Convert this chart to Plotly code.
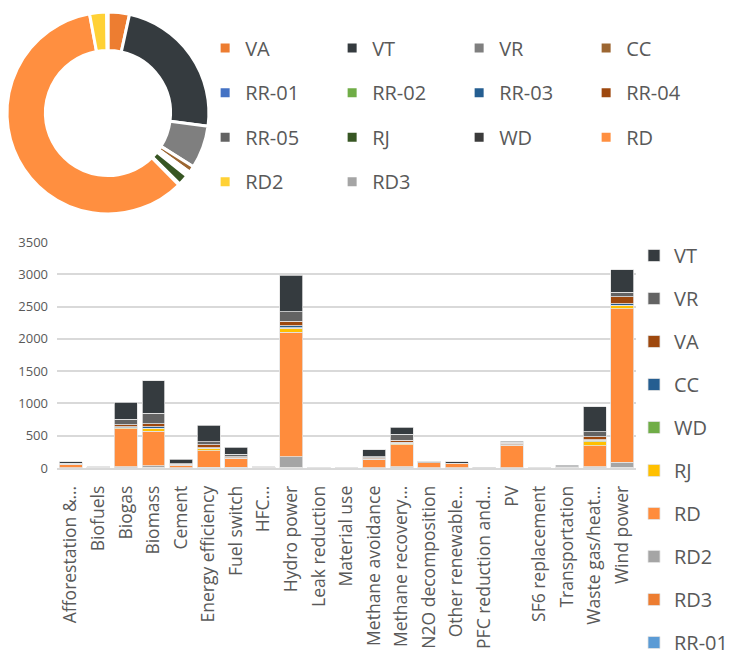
import plotly.graph_objects as go

# ---------------- Donut data ----------------
donut_labels = ["VA", "VT", "VR", "CC", "RR-01", "RR-02", "RR-03", "RR-04",
                "RR-05", "RJ", "WD", "RD", "RD2", "RD3"]
donut_values = [3.4, 23.5, 6.8, 1.0, 0.15, 0.15, 0.15, 0.15,
                0.15, 1.7, 0.2, 59.0, 2.7, 0.2]
donut_colors = ["#ED7D31", "#353B3F", "#7F7F7F", "#9C6631", "#4472C4", "#70AD47",
                "#255E91", "#9E480E", "#636363", "#375623", "#3B3B3B", "#FF8F40",
                "#FFD135", "#A5A5A5"]

# ---------------- Bar data ----------------
categories = ["Afforestation &…", "Biofuels", "Biogas", "Biomass", "Cement",
              "Energy efficiency", "Fuel switch", "HFC…", "Hydro power",
              "Leak reduction", "Material use", "Methane avoidance",
              "Methane recovery…", "N2O decomposition", "Other renewable…",
              "PFC reduction and…", "PV", "SF6 replacement", "Transportation",
              "Waste gas/heat…", "Wind power"]

VT = [22, 3, 260, 507, 70, 254, 109, 4, 563, 0, 0, 113, 113, 0, 20, 2, 20, 0, 18, 383, 352]
VR = [10, 8, 90, 160, 5, 50, 40, 3, 150, 0, 0, 15, 93, 25, 3, 3, 12, 0, 5, 82, 67]
VA = [5, 0, 30, 50, 5, 45, 15, 8, 70, 0, 0, 15, 25, 0, 0, 0, 25, 2, 5, 41, 110]
CC = [0, 0, 10, 20, 0, 8, 5, 0, 25, 0, 0, 5, 15, 0, 0, 0, 10, 0, 0, 8, 26]
WD = [0, 0, 5, 5, 0, 5, 3, 0, 10, 0, 0, 0, 3, 0, 0, 0, 3, 0, 0, 25, 8]
RJ = [0, 0, 15, 45, 8, 30, 10, 0, 60, 0, 0, 5, 20, 0, 0, 0, 5, 0, 0, 60, 45]
RD = [55, 0, 590, 530, 45, 255, 135, 6, 1930, 8, 0, 130, 346, 80, 70, 0, 340, 6, 13, 330, 2378]
RD2 = [0, 12, 10, 30, 0, 10, 5, 0, 160, 5, 0, 0, 10, 3, 0, 3, 0, 4, 0, 10, 72]
RD3 = [3, 0, 5, 5, 0, 3, 3, 0, 10, 2, 0, 3, 5, 0, 2, 0, 3, 2, 0, 5, 10]
RR01 = [0, 0, 2, 3, 0, 2, 0, 0, 5, 0, 0, 0, 2, 0, 0, 0, 0, 0, 0, 2, 5]

# stacking order, bottom to top
bar_series = [
    ("RR-01", RR01, "#5B9BD5"),
    ("RD3", RD3, "#ED7D31"),
    ("RD2", RD2, "#A5A5A5"),
    ("RD", RD, "#FF8C3C"),
    ("RJ", RJ, "#FFC000"),
    ("WD", WD, "#70AD47"),
    ("CC", CC, "#255E91"),
    ("VA", VA, "#9E480E"),
    ("VR", VR, "#636363"),
    ("VT", VT, "#353B3F"),
]

FONT = "Open Sans"
TXT = "#595959"

# legend entries of the donut: 20px text inside a taller legend row
legend_labels = ['<span style="font-size:20px;baseline-shift:5px">%s</span>' % s
                 for s in donut_labels]

fig = go.Figure()

fig.add_trace(go.Pie(
    labels=legend_labels, values=donut_values, sort=False, direction="clockwise",
    rotation=0, hole=0.62, textinfo="none",
    customdata=donut_labels, hovertemplate="%{customdata}: %{percent}<extra></extra>",
    marker=dict(colors=donut_colors, line=dict(color="white", width=3)),
    domain=dict(x=[0.0, 0.321], y=[0.5486, 0.9849]),
    legend="legend",
))

n = len(bar_series)
for i, (name, vals, color) in enumerate(bar_series):
    fig.add_trace(go.Bar(
        x=categories, y=vals, name=name, legendgroup=name, legendrank=n - i,
        marker=dict(color=color, line=dict(color="#E3E3E3", width=0.8)),
        legend="legend2",
    ))

fig.update_layout(
    width=731, height=657,
    margin=dict(l=7, r=95, t=5, b=189, autoexpand=False),
    paper_bgcolor="white", plot_bgcolor="white",
    font=dict(family=FONT, color=TXT),
    barmode="stack", bargap=0.17,
    xaxis=dict(domain=[0.0795, 1.0], type="category", tickangle=-90,
               tickfont=dict(size=17.5, color=TXT), showgrid=False,
               showline=True, linecolor="#D9D9D9", linewidth=1.5, ticks="",
               ticklabelstandoff=9),
    yaxis=dict(domain=[0.0, 0.488], range=[0, 3500], dtick=500,
               gridcolor="#D9D9D9", gridwidth=1.5, zeroline=False,
               tickfont=dict(size=13, color=TXT), ticklabelstandoff=8),
    legend=dict(orientation="h", x=0.315, xanchor="left", y=0.966, yanchor="top",
                font=dict(size=32, color=TXT, family=FONT), entrywidth=82,
                bgcolor="rgba(0,0,0,0)"),
    legend2=dict(orientation="v", x=0.9968, xanchor="left", y=0.5011, yanchor="top",
                 font=dict(size=20, color=TXT, family=FONT),
                 traceorder="grouped", tracegroupgap=14,
                 bgcolor="rgba(0,0,0,0)"),
    showlegend=True,
)

fig.write_html("out.html", config={"displayModeBar": False},
               post_script="document.body.style.margin='0px';"
                           "document.body.style.overflow='hidden';")
